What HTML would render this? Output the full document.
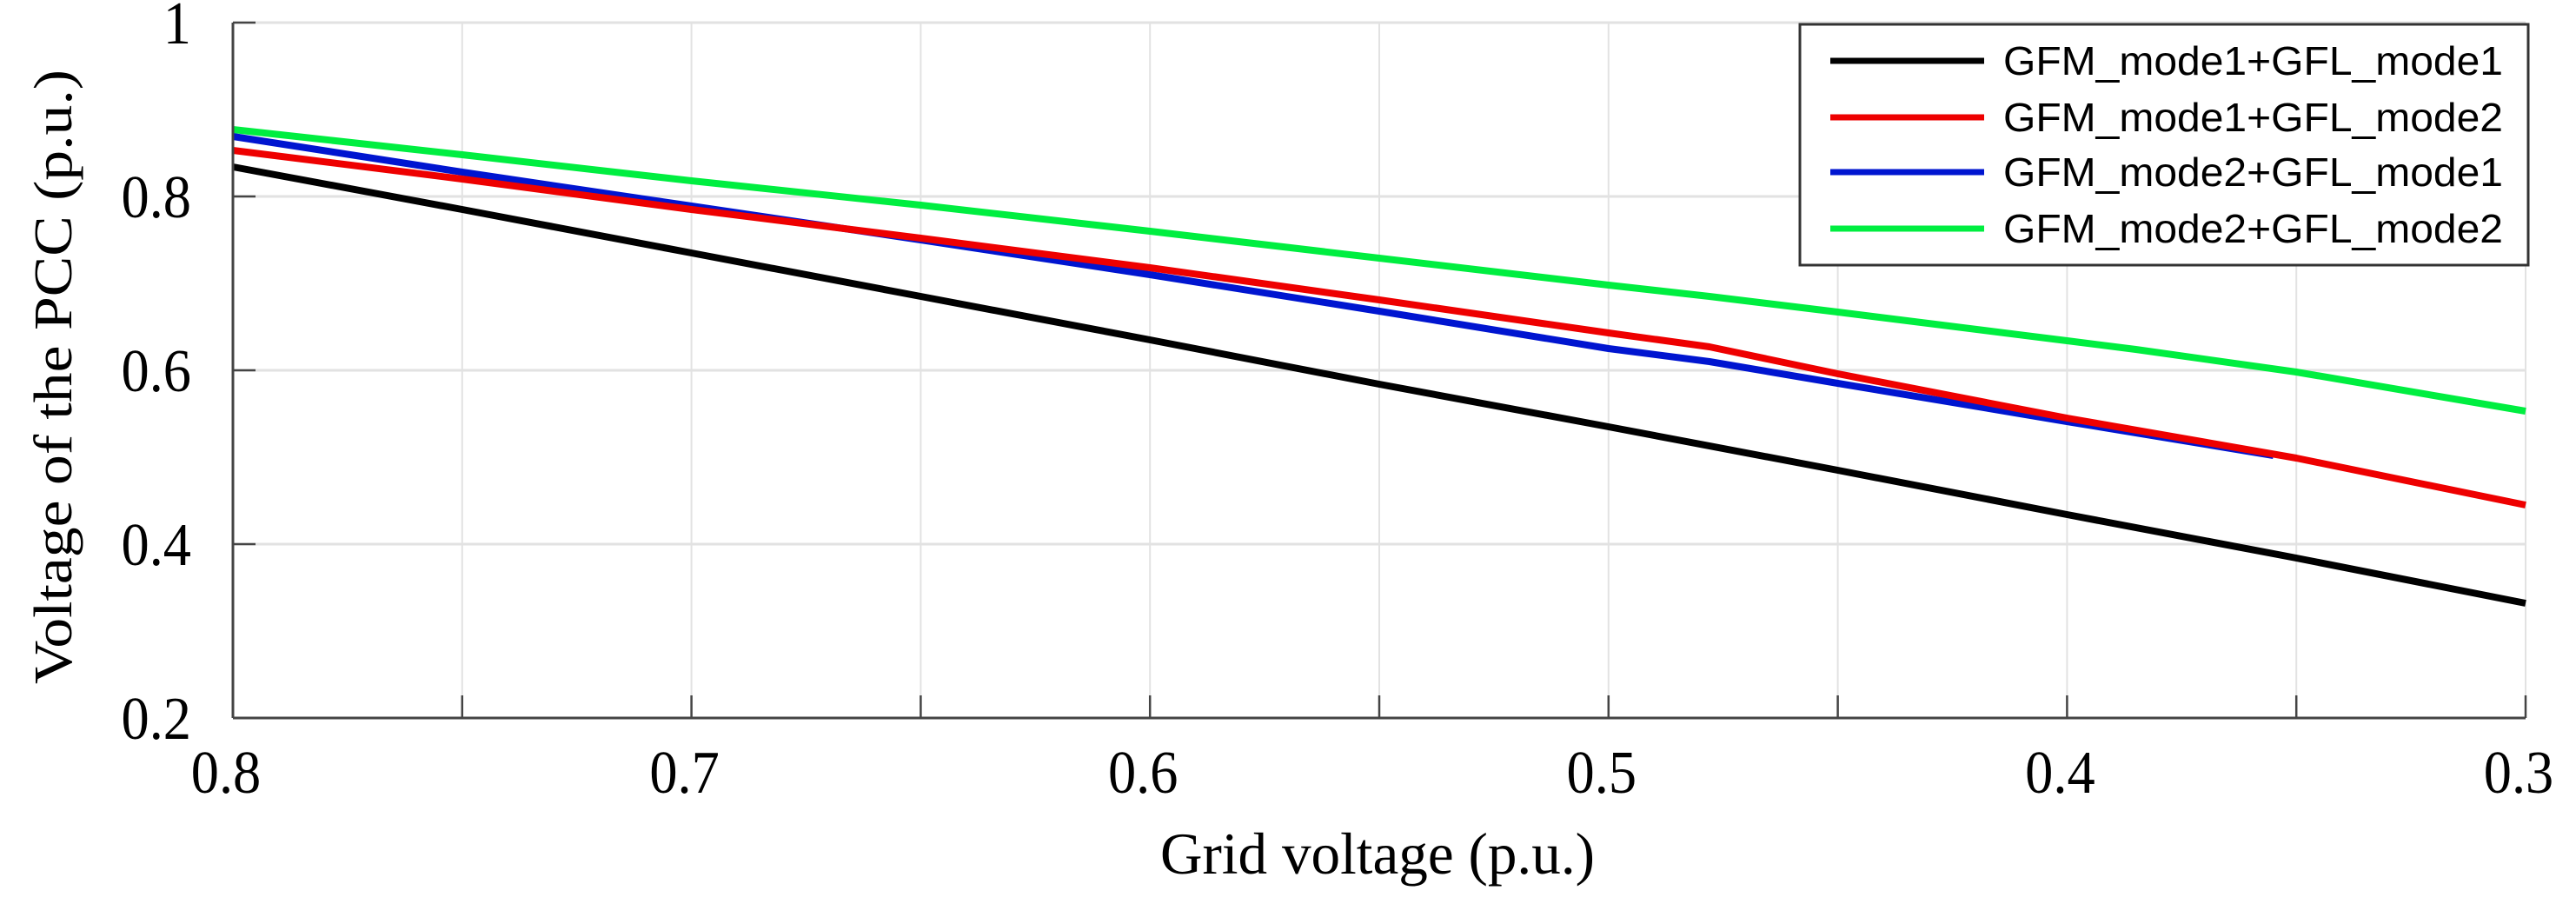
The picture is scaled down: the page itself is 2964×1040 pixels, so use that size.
<!DOCTYPE html>
<html><head><meta charset="utf-8"><style>
html,body{margin:0;padding:0;background:#fff;}
svg{display:block;}
</style></head><body>
<svg id="chart" width="2964" height="1040" viewBox="0 0 2964 1040" xmlns="http://www.w3.org/2000/svg">
<g id="grid"></g>
<g id="series"></g>
<g id="axes"></g>
<text x="1335" y="1005" font-family="Liberation Serif, serif" font-size="68" textLength="500" lengthAdjust="spacingAndGlyphs" fill="#000">Grid voltage (p.u.)</text>
<text transform="translate(82,787) rotate(-90)" x="0" y="0" font-family="Liberation Serif, serif" font-size="62" textLength="707" lengthAdjust="spacingAndGlyphs" fill="#000">Voltage of the PCC  (p.u.)</text>
<g id="legend">
<rect x="2071" y="28" width="838" height="277" fill="#fff" stroke="#333" stroke-width="3"/>
</g>
</svg>
<script>
const xTicks = [0.8, 0.7, 0.6, 0.5, 0.4, 0.3];
const xTickLabels = ["0.8", "0.7", "0.6", "0.5", "0.4", "0.3"];
const xGrid = [0.8, 0.75, 0.7, 0.65, 0.6, 0.55, 0.5, 0.45, 0.4, 0.35, 0.3];
const yTicks = [1, 0.8, 0.6, 0.4, 0.2];
const yTickLabels = ["1", "0.8", "0.6", "0.4", "0.2"];
const seriesNames = ["GFM_mode1+GFL_mode1", "GFM_mode1+GFL_mode2", "GFM_mode2+GFL_mode1", "GFM_mode2+GFL_mode2"];
const seriesColors = ["#000000", "#ee0000", "#0015d0", "#00ee40"];
const blackX = [0.8, 0.75, 0.7, 0.65, 0.6, 0.55, 0.5, 0.45, 0.4, 0.35, 0.3];
const blackY = [0.834, 0.785, 0.735, 0.685, 0.635, 0.584, 0.535, 0.485, 0.434, 0.384, 0.332];
const redX = [0.8, 0.75, 0.7, 0.65, 0.6, 0.55, 0.5, 0.478, 0.45, 0.4, 0.35, 0.3];
const redY = [0.853, 0.820, 0.785, 0.752, 0.718, 0.681, 0.643, 0.627, 0.596, 0.545, 0.499, 0.445];
const blueX = [0.8, 0.75, 0.7, 0.65, 0.6, 0.55, 0.5, 0.478, 0.45, 0.4, 0.355];
const blueY = [0.869, 0.828, 0.789, 0.750, 0.710, 0.668, 0.625, 0.610, 0.585, 0.541, 0.502];
const greenX = [0.8, 0.75, 0.7, 0.65, 0.6, 0.55, 0.5, 0.478, 0.45, 0.4, 0.385, 0.35, 0.3];
const greenY = [0.877, 0.848, 0.818, 0.790, 0.760, 0.729, 0.698, 0.685, 0.667, 0.634, 0.624, 0.598, 0.553];

const NS = "http://www.w3.org/2000/svg";
const L = 268, R = 2906, T = 26, B = 826;
function sx(v){ return L + (0.8 - v) / 0.5 * (R - L); }
function sy(v){ return B - (v - 0.2) / 0.8 * (B - T); }
function mk(tag, attrs, parent){ const e = document.createElementNS(NS, tag); for (const k in attrs) e.setAttribute(k, attrs[k]); parent.appendChild(e); return e; }

const grid = document.getElementById('grid');
const axes = document.getElementById('axes');
const series = document.getElementById('series');
const legend = document.getElementById('legend');

xGrid.forEach(v => {
  const g = mk('line', {x1: sx(v), x2: sx(v), y1: T, y2: B, stroke: '#e2e2e2', 'stroke-width': 2}, grid);
  
  
  const t = mk('line', {x1: sx(v), x2: sx(v), y1: B, y2: B - 26, stroke: '#444', 'stroke-width': 2.5}, axes);
  
  
});
yTicks.forEach((v, i) => {
  const g = mk('line', {x1: L, x2: R, y1: sy(v), y2: sy(v), stroke: '#e2e2e2', 'stroke-width': 3}, grid);
  
  
  const t = mk('line', {x1: L, x2: L + 26, y1: sy(v), y2: sy(v), stroke: '#444', 'stroke-width': 2.5}, axes);
  
  
  const lb = mk('text', {x: 220, y: sy(v) + 24, 'text-anchor': 'end', 'font-family': 'Liberation Serif, serif', 'font-size': 70, fill: '#000', transform: `translate(${220*0.08},0) scale(0.92,1)`}, axes);
  
  
  lb.textContent = yTickLabels[i];
});
xTicks.forEach((v, i) => {
  const cx = sx(v) - 8;
  const lb = mk('text', {x: cx, y: 912, 'text-anchor': 'middle', 'font-family': 'Liberation Serif, serif', 'font-size': 70, fill: '#000', transform: `translate(${cx*0.08},0) scale(0.92,1)`}, axes);
  
  
  lb.textContent = xTickLabels[i];
});
const ax1 = mk('line', {x1: L, x2: L, y1: T, y2: B, stroke: '#444', 'stroke-width': 3}, axes);


const ax2 = mk('line', {x1: L, x2: R, y1: B, y2: B, stroke: '#444', 'stroke-width': 3}, axes);



const allX = [blackX, redX, blueX, greenX];
const allY = [blackY, redY, blueY, greenY];
const lineNames = ['line-gfm1-gfl1', 'line-gfm1-gfl2', 'line-gfm2-gfl1', 'line-gfm2-gfl2'];
[0, 3, 2, 1].forEach(i => {
  const pts = allX[i].map((x, j) => sx(x).toFixed(1) + ',' + sy(allY[i][j]).toFixed(1)).join(' ');
  const p = mk('polyline', {points: pts, fill: 'none', stroke: seriesColors[i], 'stroke-width': 8, 'stroke-linejoin': 'round'}, series);
  
  
});

const legY = [70, 135, 198, 263];
seriesNames.forEach((n, i) => {
  const ln = mk('line', {x1: 2106, x2: 2283, y1: legY[i], y2: legY[i], stroke: seriesColors[i], 'stroke-width': 7}, legend);
  
  
  const tx = mk('text', {x: 2305, y: legY[i] + 16, 'font-family': 'Liberation Sans, sans-serif', 'font-size': 46, fill: '#000', textLength: 575, lengthAdjust: 'spacingAndGlyphs'}, legend);
  
  
  tx.textContent = n;
});
</script>
</body></html>
